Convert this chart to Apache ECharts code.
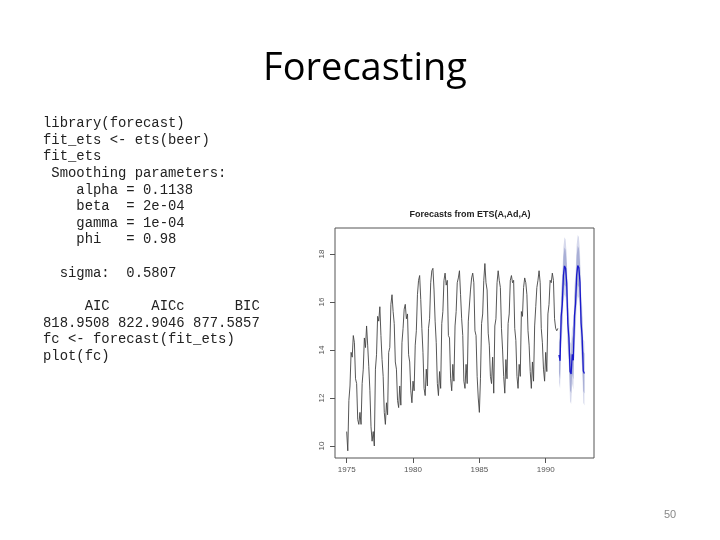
<!DOCTYPE html>
<html>
<head>
<meta charset="utf-8">
<script src="https://cdn.jsdelivr.net/npm/echarts@6/dist/echarts.min.js"></script>
<style>
html,body{margin:0;padding:0;background:#fff;}
#c{width:720px;height:540px;}
</style>
</head>
<body>
<div id="c"></div>
<script>
// Monthly beer sales, Jan 1975 - Dec 1990
var startYear = 1975;
var y1975 = [10.6, 9.8, 11.9, 12.5, 13.9, 13.7, 14.6, 14.3, 12.8, 12.6, 11.1, 10.9];
var y1976 = [11.4, 10.9, 12.6, 13.2, 14.5, 14.1, 15.0, 14.2, 13.3, 12.3, 10.8, 10.2];
var y1977 = [10.6, 10.0, 13.2, 13.8, 15.4, 15.2, 15.8, 14.6, 13.6, 12.9, 11.4, 10.9];
var y1978 = [11.8, 11.3, 13.9, 14.1, 15.9, 16.3, 15.6, 15.1, 13.5, 13.2, 11.9, 11.6];
var y1979 = [12.5, 11.7, 14.3, 14.9, 15.7, 15.9, 15.3, 15.5, 13.8, 13.5, 12.3, 11.8];
var y1980 = [12.7, 12.3, 14.2, 14.8, 16.3, 16.9, 17.1, 16.1, 14.9, 13.9, 12.4, 12.1];
var y1981 = [13.2, 12.5, 14.9, 15.3, 16.8, 17.3, 17.4, 16.5, 15.2, 14.3, 12.6, 12.1];
var y1982 = [13.1, 12.4, 15.1, 15.6, 16.9, 17.2, 16.7, 16.9, 14.6, 14.5, 12.8, 12.3];
var y1983 = [13.4, 12.7, 15.0, 15.6, 16.8, 17.0, 17.3, 16.3, 15.3, 14.6, 12.7, 12.4];
var y1984 = [13.4, 12.6, 15.2, 15.2, 16.5, 17.0, 17.2, 16.8, 14.8, 14.6, 12.9, 12.0];
var y1985 = [11.4, 12.8, 15.1, 15.5, 16.9, 17.6, 16.8, 16.5, 14.7, 14.2, 12.9, 12.6];
var y1986 = [13.7, 12.2, 15.0, 15.3, 16.8, 17.3, 16.9, 16.6, 14.9, 14.0, 12.9, 12.2];
var y1987 = [13.6, 12.8, 15.1, 15.5, 16.9, 17.1, 16.8, 16.9, 14.9, 14.4, 12.9, 12.4];
var y1988 = [13.4, 12.9, 15.6, 15.4, 16.6, 17.0, 16.8, 16.3, 14.8, 14.2, 13.1, 12.4];
var y1989 = [13.5, 12.7, 15.0, 15.8, 16.6, 16.9, 17.3, 16.8, 14.9, 14.3, 13.2, 12.7];
var y1990 = [13.9, 13.1, 15.5, 15.9, 16.9, 16.8, 17.2, 16.9, 15.3, 14.9, 14.8, 14.9];

// Forecasts Jan 1991 - Dec 1992
var fcStart = 1991;
var fcMean = [13.80,13.55,15.40,15.90,17.10,17.50,17.40,16.80,15.10,14.50,13.10,13.00,
              13.82,13.57,15.42,15.92,17.12,17.52,17.42,16.82,15.12,14.52,13.12,13.02];
var fcHi80 = [14.55,14.30,16.16,16.66,17.86,18.27,18.17,17.57,15.88,15.28,13.88,13.79,
              14.62,14.37,16.22,16.73,17.93,18.33,18.24,17.64,15.95,15.35,13.95,13.85];
var fcLo80 = [13.05,12.80,14.64,15.14,16.34,16.73,16.63,16.03,14.32,13.72,12.32,12.21,
              13.02,12.77,14.62,15.11,16.31,16.71,16.60,16.00,14.29,13.69,12.29,12.19];
var fcHi95 = [14.94,14.70,16.56,17.07,18.28,18.69,18.60,18.01,16.32,15.73,14.34,14.25,
              15.04,14.80,16.66,17.17,18.38,18.79,18.70,18.11,16.42,15.83,14.44,14.35];
var fcLo95 = [12.66,12.40,14.24,14.73,15.92,16.31,16.20,15.59,13.88,13.27,11.86,11.75,
              12.60,12.34,14.18,14.67,15.86,16.25,16.14,15.53,13.82,13.21,11.80,11.69];

var xTicks = [1975, 1980, 1985, 1990];
var yTicks = [10, 12, 14, 16, 18];

var slideTitle = 'Forecasting';
var plotTitle = 'Forecasts from ETS(A,Ad,A)';
var codeLines = [
  'library(forecast)',
  'fit_ets <- ets(beer)',
  'fit_ets',
  ' Smoothing parameters:',
  '    alpha = 0.1138',
  '    beta  = 2e-04',
  '    gamma = 1e-04',
  '    phi   = 0.98',
  '',
  '  sigma:  0.5807',
  '',
  '     AIC     AICc      BIC',
  '818.9508 822.9046 877.5857',
  'fc <- forecast(fit_ets)',
  'plot(fc)'
];
var pageNumber = '50';

var hist = [].concat(y1975,y1976,y1977,y1978,y1979,y1980,y1981,y1982,
                     y1983,y1984,y1985,y1986,y1987,y1988,y1989,y1990);
var histData = hist.map(function(v, i){ return [startYear + i/12, v]; });
var fcData = fcMean.map(function(v, i){ return [fcStart + i/12, v]; });

function bandSeries(hi, lo, color){
  return {
    type: 'custom',
    silent: true,
    data: [[fcStart, hi[0]]],
    renderItem: function(params, api){
      var pts = [];
      for (var i = 0; i < hi.length; i++) pts.push(api.coord([fcStart + i/12, hi[i]]));
      for (var j = lo.length - 1; j >= 0; j--) pts.push(api.coord([fcStart + j/12, lo[j]]));
      return { type: 'polygon', shape: { points: pts }, style: { fill: color } };
    },
    z: 1
  };
}

var chart = echarts.init(document.getElementById('c'), null, {renderer: 'canvas'});
chart.setOption({
  animation: false,
  backgroundColor: '#ffffff',
  title: [
    { text: slideTitle, left: 360, top: 45, textAlign: 'center',
      textStyle: { fontFamily: 'Open Sans', fontSize: 38, fontWeight: 'normal', color: '#000' } },
    { text: plotTitle, left: 465, top: 205, textAlign: 'center',
      textStyle: { fontFamily: 'Liberation Sans', fontSize: 9, fontWeight: 'bold', color: '#222' } }
  ],
  graphic: [
    { type: 'text', left: 43, top: 115,
      style: { text: codeLines.join('\n'), font: '13.9px "Liberation Mono"', lineHeight: 16.64, fill: '#222' } },
    { type: 'text', left: 664, top: 509,
      style: { text: pageNumber, font: '11px "Liberation Sans"', fill: '#888' } }
  ],
  grid: { left: 335, top: 228, right: 126, bottom: 82, show: true,
          borderColor: '#555', borderWidth: 1, backgroundColor: 'transparent' },
  xAxis: {
    type: 'value', min: 1974.12, max: 1993.64,
    axisLine: { show: false },
    splitLine: { show: false },
    axisTick: { show: true, length: 5, customValues: xTicks, lineStyle: { color: '#555' } },
    axisLabel: { customValues: xTicks, margin: 8, fontSize: 8, color: '#555',
                 fontFamily: 'Liberation Sans', formatter: function(v){ return String(v); } }
  },
  yAxis: {
    type: 'value', min: 9.5, max: 19.08,
    axisLine: { show: false },
    splitLine: { show: false },
    axisTick: { show: true, length: 5, customValues: yTicks, lineStyle: { color: '#555' } },
    axisLabel: { customValues: yTicks, margin: 9, fontSize: 8, color: '#555', rotate: 90,
                 fontFamily: 'Liberation Sans', formatter: function(v){ return String(v); } }
  },
  series: [
    bandSeries(fcHi95, fcLo95, '#d6d9ec'),
    bandSeries(fcHi80, fcLo80, '#a9afd6'),
    { type: 'line', data: histData, showSymbol: false, silent: true, z: 3,
      lineStyle: { color: '#444', width: 0.9 } },
    { type: 'line', data: fcData, showSymbol: false, silent: true, z: 4,
      lineStyle: { color: '#1a1acc', width: 1.3 } }
  ]
});
</script>
</body>
</html>
